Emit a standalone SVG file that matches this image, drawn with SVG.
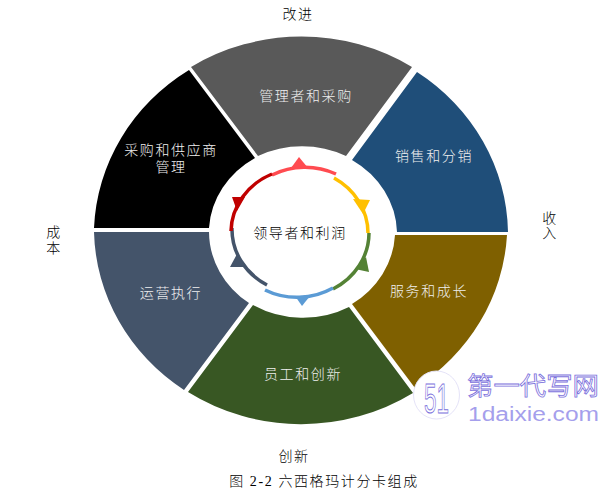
<svg xmlns="http://www.w3.org/2000/svg" width="615" height="497" viewBox="0 0 615 497">
<style>
.t{font-family:"Liberation Serif","Noto Sans CJK SC",serif;font-size:14px;font-weight:300;text-anchor:middle;letter-spacing:1.6px}
.w{fill:#f0f0f0}
.k{fill:#000}
.a{fill:none;stroke-width:3.500}
.wm{font-family:"Liberation Sans","Noto Sans CJK SC",sans-serif}
</style>
<rect width="615" height="497" fill="#fff"/>
<g id="seg-gray"><path d="M191 67A207 197 0 0 1 412 67L346 156A96 88 0 0 0 258 156Z" fill="#595959"/><text class="t w" x="306" y="101">管理者和采购</text></g>
<g id="seg-blue"><path d="M417 72A207 197 0 0 1 508 232H397A96 88 0 0 0 352 160Z" fill="#1f4e79"/><text class="t w" x="434" y="161">销售和分销</text></g>
<g id="seg-brown"><path d="M507 235A207 197 0 0 1 415 388L352 304A96 88 0 0 0 395 235Z" fill="#7f6000"/><text class="t w" x="429" y="296">服务和成长</text></g>
<g id="seg-green"><path d="M413 393A207 197 0 0 1 188 392L253 305A96 88 0 0 0 349 307Z" fill="#385723"/><text class="t w" x="303" y="379">员工和创新</text></g>
<g id="seg-slate"><path d="M184 390A207 197 0 0 1 94 232H209A96 88 0 0 0 249 303Z" fill="#44546a"/><text class="t w" x="171" y="298">运营执行</text></g>
<g id="seg-black"><path d="M189 70A207 197 0 0 0 94 228H209A96 88 0 0 1 255 158Z" fill="#000"/><text class="t w" x="171" y="155">采购和供应商</text><text class="t w" x="171" y="172">管理</text></g>
<g id="center"><text class="t k" x="300" y="238">领导者和利润</text></g>
<g id="connectors">
<path class="a" d="M272 175A69 64 0 0 1 336 174" stroke="#ff4b50"/><path d="M299 157L308 168H291Z" fill="#ff4b50"/>
<path class="a" d="M334 178A69 64 0 0 1 368 233" stroke="#ffc000"/><path d="M353 199L370 200L363 214Z" fill="#ffc000"/>
<path class="a" d="M369 233A69 64 0 0 1 333 289" stroke="#548235"/><path d="M366 257L369 272L355 269Z" fill="#548235"/>
<path class="a" d="M333 288A69 64 0 0 1 265 290" stroke="#5b9bd5"/><path d="M295 296H310L302 306Z" fill="#5b9bd5"/>
<path class="a" d="M267 285A69 64 0 0 1 232 228" stroke="#44546a"/><path d="M237 254L245 267H230Z" fill="#44546a"/>
<path class="a" d="M231 231A69 64 0 0 1 272 174" stroke="#c00000"/><path d="M232 197H245L237 211Z" fill="#c00000"/>
</g>
<g id="labels">
<text class="t k" x="298" y="19">改进</text>
<text class="t k" x="550" y="223">收</text><text class="t k" x="550" y="238">入</text>
<text class="t k" x="54" y="237">成</text><text class="t k" x="54" y="253">本</text>
<text class="t k" x="294" y="461">创新</text>
<text class="t k" x="324" y="486">图 2-2 六西格玛计分卡组成</text>
</g>
<g id="watermark">
<ellipse cx="436.500" cy="395" rx="23" ry="24" fill="#fff" stroke="#e5e3f8"/>
<text class="wm" x="424" y="413" font-size="42" font-weight="300" textLength="25" lengthAdjust="spacingAndGlyphs" fill="#fff" stroke="#7b70dc" stroke-width="1">51</text>
<text class="wm" x="467" y="395" font-size="25" textLength="132" lengthAdjust="spacingAndGlyphs" fill="#fff" stroke="#7b70dc" stroke-width=".8">第一代写网</text>
<text class="wm" x="468" y="421" font-size="20" textLength="131" lengthAdjust="spacingAndGlyphs" fill="#a59fec">1daixie.com</text>
</g>
</svg>
